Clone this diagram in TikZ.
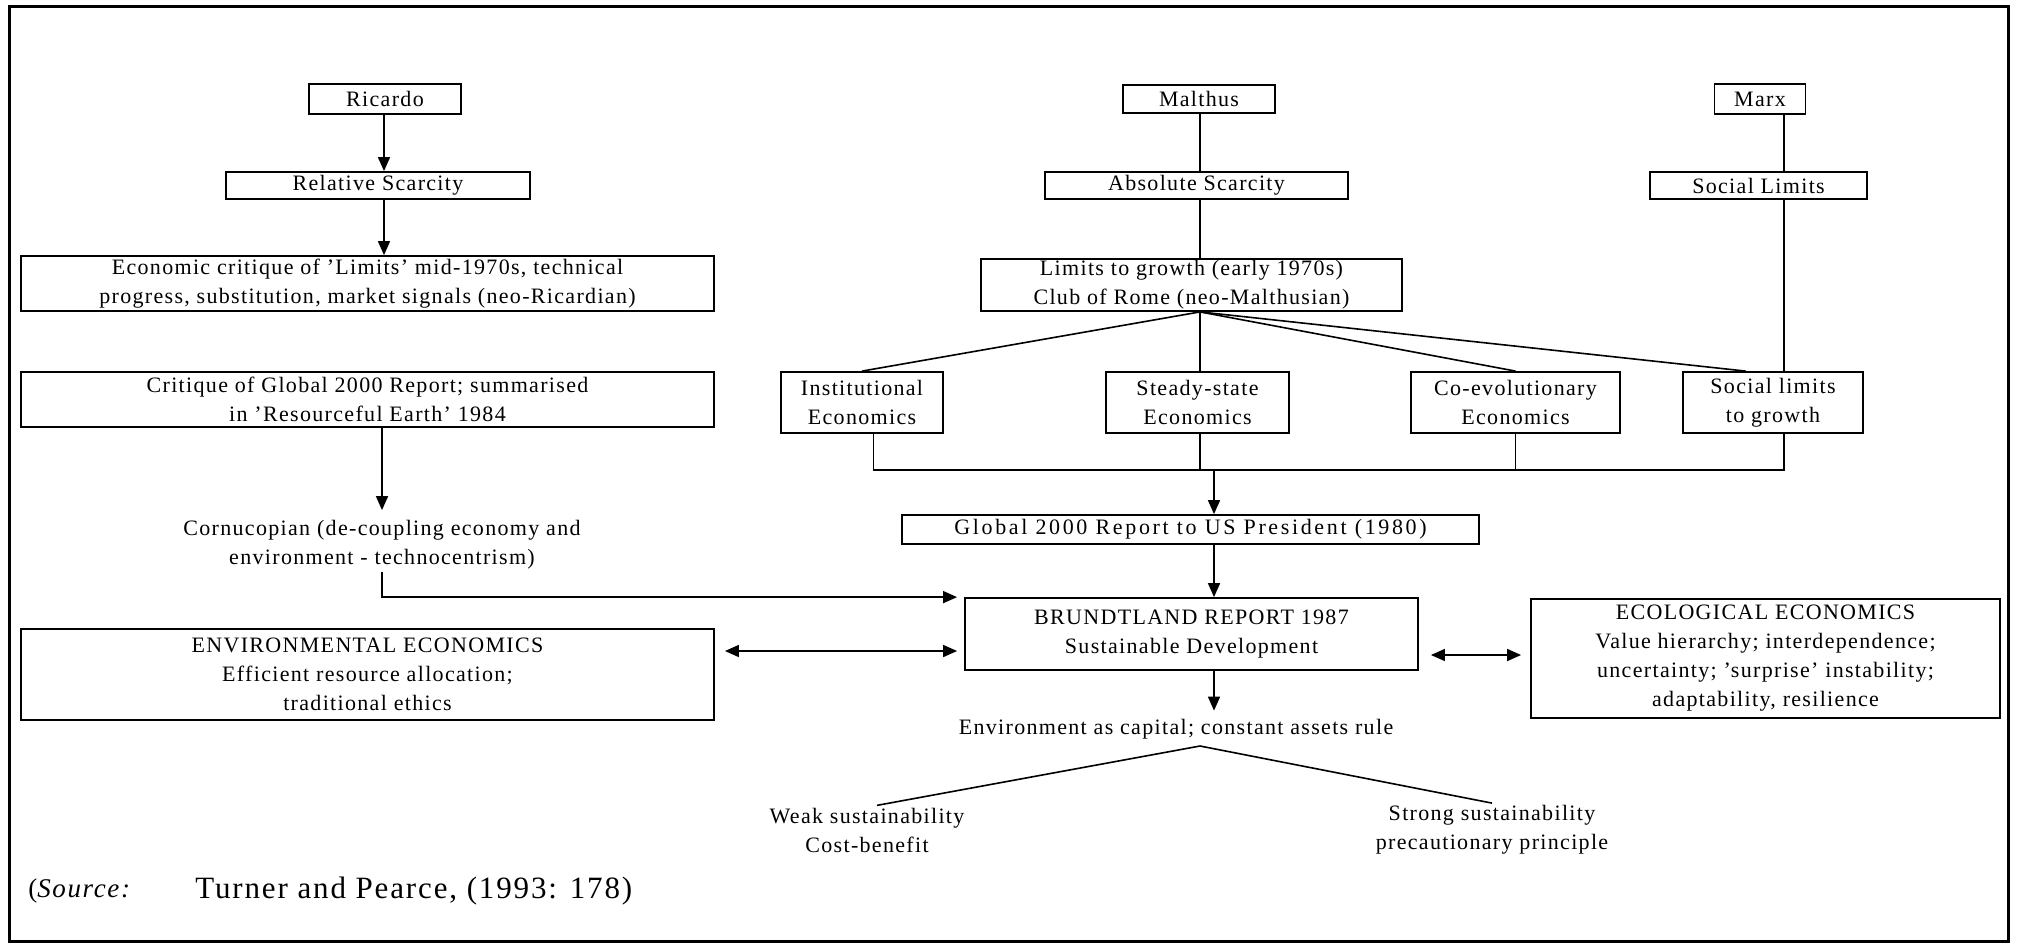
\documentclass[tikz,border=0pt]{standalone}
\usepackage{fontspec}
\setmainfont{Liberation Serif}[LetterSpace=6]
\usetikzlibrary{arrows.meta,calc}
\newcommand\fsz{\fontsize{11}{14.5}\selectfont}
\newcommand\srcsz{\fontsize{15.5}{18}\selectfont}
\newcommand\srclab{\fontsize{13.5}{16}\selectfont}
\tikzset{
  box/.style={draw, line width=0.9pt, inner sep=0pt, align=center, font=\fsz},
  txt/.style={inner sep=1pt, align=center, font=\fsz},
  ln/.style={line width=0.8pt},
  arr/.style={ln, -{Triangle[length=7pt,width=6pt]}},
  darr/.style={ln, {Triangle[length=7pt,width=6pt]}-{Triangle[length=7pt,width=6pt]}},
}
\begin{document}
\begin{tikzpicture}[x=0.5pt,y=-0.5pt]
\useasboundingbox (0,0) rectangle (2017,944);
\draw[line width=1.5pt] (9,6) rectangle (2008,941);

% left column
\node[box, minimum width=76pt, minimum height=15pt] (ric) at (385,99) {Ricardo};
\node[box, minimum width=152pt, minimum height=13.5pt] (rel) at (378,185.5) {Relative Scarcity};
\node[box, minimum width=346.5pt, minimum height=27.5pt] (econ) at (367.5,283.5) {Economic critique of 'Limits' mid-1970s, technical\\progress, substitution, market signals (neo-Ricardian)};
\node[box, minimum width=346.5pt, minimum height=27.5pt] (crit) at (367.5,399.5) {Critique of Global 2000 Report; summarised\\in 'Resourceful Earth' 1984};
\node[txt] (corn) at (382,545) {Cornucopian (de-coupling economy and\\environment - technocentrism)};
\node[box, minimum width=346.5pt, minimum height=45.5pt] (env) at (367.5,674.5) {ENVIRONMENTAL ECONOMICS\\Efficient resource allocation;\\traditional ethics};

% middle / right
\node[box, minimum width=76pt, minimum height=14pt] (mal) at (1199,99) {Malthus};
\node[box, minimum width=151.5pt, minimum height=13.5pt] (abs) at (1196.5,185.5) {Absolute Scarcity};
\node[box, minimum width=210.5pt, minimum height=26pt] (lim) at (1191.5,285) {Limits to growth (early 1970s)\\Club of Rome (neo-Malthusian)};
\node[box, minimum width=45.5pt, minimum height=15pt] (marx) at (1760,99) {Marx};
\node[box, minimum width=108.5pt, minimum height=13.5pt] (soc) at (1758.5,185.5) {Social Limits};
\node[box, minimum width=81pt, minimum height=30.5pt] (inst) at (862,402.5) {Institutional\\Economics};
\node[box, minimum width=91.5pt, minimum height=30.5pt] (steady) at (1197.5,402.5) {Steady-state\\Economics};
\node[box, minimum width=104.5pt, minimum height=30.5pt] (coevo) at (1515.5,402.5) {Co-evolutionary\\Economics};
\node[box, minimum width=90pt, minimum height=30.5pt] (slg) at (1773,402.5) {Social limits\\to growth};
\node[box, minimum width=288.5pt, minimum height=14.5pt, font=\fsz\addfontfeature{LetterSpace=12}] (glob) at (1190.5,529.5) {Global 2000 Report to US President (1980)};
\node[box, minimum width=226.5pt, minimum height=36pt] (brund) at (1191.5,634) {BRUNDTLAND REPORT 1987\\Sustainable Development};
\node[box, minimum width=234.5pt, minimum height=59.5pt] (eco) at (1765.5,658.5) {ECOLOGICAL ECONOMICS\\Value hierarchy; interdependence;\\uncertainty; 'surprise' instability;\\adaptability, resilience};
\node[txt] (envcap) at (1176,729) {Environment as capital; constant assets rule};
\node[txt] (weak) at (867,830) {Weak sustainability\\Cost-benefit};
\node[txt] (strong) at (1492,830) {Strong sustainability\\precautionary principle};
\node[txt, anchor=west, font=\srclab] (src) at (26,891) {(\textit{Source:}};
\node[txt, anchor=west, font=\srcsz] (srcref) at (193,891) {Turner and Pearce, (1993: 178)};

% helper coordinates
\coordinate (xR) at (384,0);
\coordinate (xC) at (382,0);
\coordinate (xM) at (1200,0);
\coordinate (xX) at (1784,0);
\coordinate (xA) at (1214,0);
\coordinate (bus) at (0,470);
\coordinate (yL) at (0,651);
\coordinate (yR) at (0,655);
\coordinate (apex) at (1200,746);

% left connectors
\draw[arr] (ric.south -| xR) -- (rel.north -| xR);
\draw[arr] (rel.south -| xR) -- (econ.north -| xR);
\draw[arr, shorten >=4pt] (crit.south -| xC) -- (corn.north -| xC);
\draw[arr, shorten >=3.5pt] (corn.south -| xC) |- (brund.north west);
\draw[darr, shorten <=5pt, shorten >=3.5pt] (env.east |- yL) -- (brund.west |- yL);

% Malthus / Marx lines
\draw[ln] (mal.south -| xM) -- (abs.north -| xM);
\draw[ln] (abs.south -| xM) -- (lim.north -| xM);
\draw[ln] (lim.south -| xM) -- (steady.north -| xM);
\draw[ln] (marx.south -| xX) -- (soc.north -| xX);
\draw[ln] (soc.south -| xX) -- (slg.north -| xX);
\draw[ln] (lim.south -| xM) -- (inst.north);
\draw[ln] (lim.south -| xM) -- (coevo.north);
\draw[ln] (lim.south -| xM) -- ($(slg.north west)!0.35!(slg.north east)$);

% bus
\draw[ln] ($(inst.south west)!0.57!(inst.south east)$) |- (bus -| xX) -- (slg.south -| xX);
\draw[ln] (steady.south -| xM) -- (bus -| xM);
\draw[ln] (coevo.south) -- (bus -| coevo.south);
\draw[arr] (bus -| xA) -- (glob.north -| xA);
\draw[arr] (glob.south -| xA) -- (brund.north -| xA);
\draw[arr, shorten >=3pt] (brund.south -| xA) -- (envcap.north -| xA);
\draw[darr, shorten <=6pt, shorten >=4.5pt] (brund.east |- yR) -- (eco.west |- yR);

% sustainability split
\draw[ln] ([xshift=5pt]weak.north) -- (apex) -- (strong.north);
\end{tikzpicture}
\end{document}
